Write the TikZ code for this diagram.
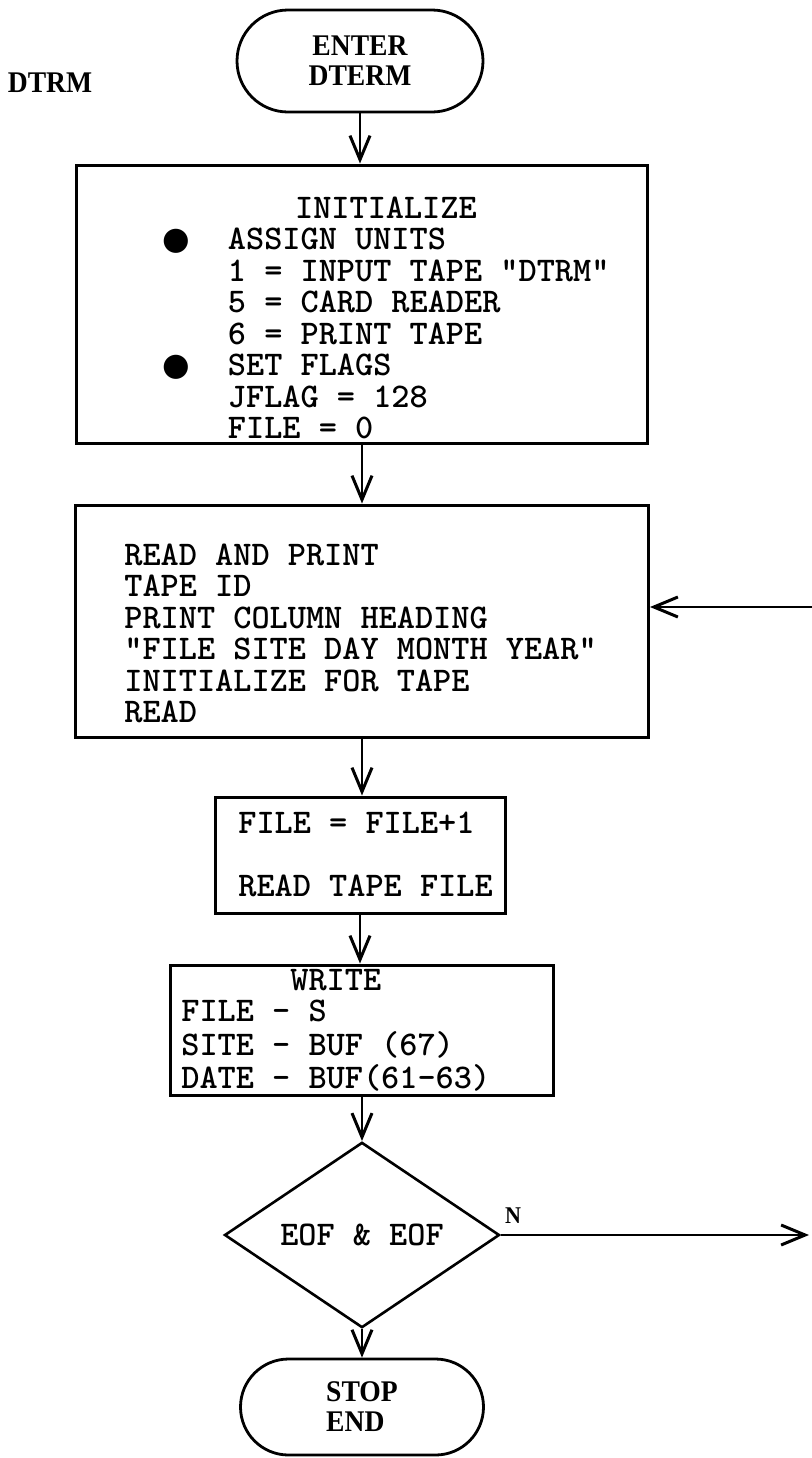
\documentclass[tikz,border=0pt]{standalone}
\usepackage{fontspec}
\newfontfamily\labelfont{Liberation Serif}[FakeStretch=0.92]
\newfontfamily\symfont{DejaVu Sans}
\usetikzlibrary{arrows.meta, positioning, shapes.geometric, shapes.misc}
\newcommand{\lines}[1]{\begin{tabular}{@{}l@{}}#1\end{tabular}}
\newcommand{\dotmark}{{\symfont\fontsize{15.8}{15.7}\selectfont ●}}

\begin{document}
\begin{tikzpicture}[x=0.5pt, y=-0.5pt,
    proc/.style={draw, line width=1.5pt, inner sep=0pt},
    term/.style={draw, rounded rectangle, line width=1.4pt, inner sep=0pt,
        font=\labelfont\bfseries\fontsize{15}{15}\selectfont},
    listing/.style={inner sep=0pt, anchor=north west,
        font=\ttfamily\bfseries\fontsize{17.3}{15.75}\selectfont},
    flow/.style={-{Straight Barb[length=12pt, width=10pt, line width=1.5pt]}, line width=1.2pt}]

    \useasboundingbox (0,0) rectangle (812,1458);

    % Entry
    \node[font=\labelfont\bfseries\fontsize{15}{15}\selectfont] (dtrm) at (50,83) {DTRM};
    \node[term, align=center, minimum width=123pt, minimum height=51pt] (enter) at (360,61) {ENTER\\DTERM};

    % Boxes
    \node[proc, minimum width=285.5pt, minimum height=139pt] (init) at (362,304) {};
    \node[proc, minimum width=286.5pt, minimum height=116pt] (readp) at (362,621) {};
    \node[proc, minimum width=145pt, minimum height=58pt] (incr) at (360,855) {};
    \node[proc, minimum width=191.5pt, minimum height=65pt] (write) at (362,1030) {};
    \node[draw, diamond, line width=1.3pt, inner sep=0pt, minimum width=137.5pt, minimum height=90pt,
        font=\ttfamily\bfseries\fontsize{17.3}{15.75}\selectfont] (test) at (362,1235) {EOF \& EOF};
    \node[term, align=left, minimum width=121.5pt, minimum height=48pt] (stop) at (362,1407) {STOP\\END};

    % Box texts
    \node[listing] (initTxt) at (162,196) {\begin{tabular}{@{}c@{\hspace{19pt}}l@{}}
        \multicolumn{2}{c}{INITIALIZE}\\
        \dotmark & ASSIGN UNITS\\
        & 1 = INPUT TAPE "DTRM"\\
        & 5 = CARD READER\\
        & 6 = PRINT TAPE\\
        \dotmark & SET FLAGS\\
        & JFLAG = 128\\
        & FILE = 0
    \end{tabular}};
    \node[listing] (readTxt) at (124,543) {\lines{READ AND PRINT\\ TAPE ID\\ PRINT COLUMN HEADING\\
        "FILE SITE DAY MONTH YEAR"\\ INITIALIZE FOR TAPE\\ READ}};
    \node[listing] (incrTxt) at (238,811) {\lines{FILE = FILE+1\\ \\ READ TAPE FILE}};
    \node[listing] (writeTxt) at (181,968) {\lines{\multicolumn{1}{c}{WRITE}\\ FILE - S\\
        SITE - BUF (67)\\ DATE - BUF(61-63)}};

    % Flow
    \draw[flow] (enter.south) -- (enter.south |- init.north);
    \draw[flow] (init.south) -- (readp.north);
    \draw[flow] (readp.south) -- (readp.south |- incr.north);
    \draw[flow] (incr.south) -- (incr.south |- write.north);
    \draw[flow] (write.south) -- (test.north);
    \draw[flow] (test.south) -- (stop.north);

    % Loop back and exit
    \coordinate (loopin) at (812,607);
    \draw[flow] (loopin) -- (loopin -| readp.east);
    \coordinate (noexit) at (809,1235);
    \draw[flow] (test.east) -- (noexit);
    \node[font=\labelfont\bfseries\fontsize{12}{12}\selectfont] (nlab) at (513,1216) {N};
\end{tikzpicture}
\end{document}
